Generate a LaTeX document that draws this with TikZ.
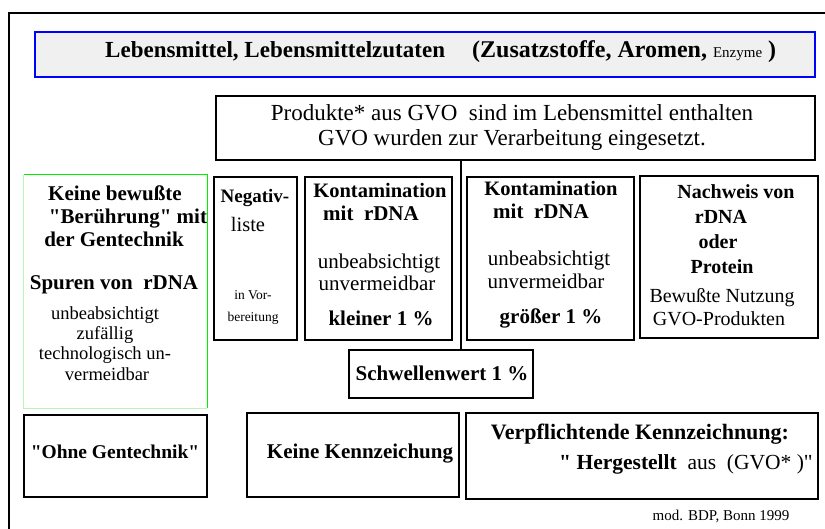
\documentclass[tikz,border=0pt]{standalone}
\usepackage{fontspec}
\setmainfont{Liberation Serif}
\newcommand\fsz[1]{\fontsize{#1}{#1}\selectfont}
\newcommand\qq{\textquotedbl}
\definecolor{titlefill}{HTML}{F0F0F0}
\definecolor{brightgreen}{HTML}{00F000}
\definecolor{palegreen}{HTML}{B8F5B8}
\begin{document}
\begin{tikzpicture}[x=1pt,y=-1pt,
  box/.style={draw=black, line width=1.3pt, inner sep=0pt, outer sep=0pt},
  lbl/.style={inner sep=0pt, anchor=mid, font=\fsz{21}},
  blbl/.style={inner sep=0pt, anchor=mid, font=\bfseries\fsz{21}},
  slbl/.style={inner sep=0pt, anchor=mid, font=\fsz{18.5}}]
\useasboundingbox (0,0) rectangle (825,529);
\clip (0,0) rectangle (825,529);
\fill[white] (0,0) rectangle (825,529);

% outer frame, running off the right and bottom
\draw[line width=1.2pt] (9,560) -- (9,13) -- (860,13);

% title bar
\node[draw=blue, fill=titlefill, line width=1.8pt, inner sep=0pt,
      minimum width=780pt, minimum height=45pt] (title) at (425,54.5) {};
\node[inner sep=0pt, anchor=mid west, font=\bfseries\fsz{23}] (titleA) at (105,55)
  {Lebensmittel, Lebensmittelzutaten};
\node[inner sep=0pt, anchor=mid west, font=\bfseries\fsz{24}] (titleB) at (472,55)
  {(Zusatzstoffe, Aromen, {\mdseries\fsz{15}Enzyme} )};

% products box
\node[box, minimum width=599pt, minimum height=64pt] (prod) at (515.5,128) {};
\node[inner sep=0pt, anchor=mid, font=\fsz{23}] (prodA) at (512,118)
  {Produkte* aus GVO\ \ sind im Lebensmittel enthalten};
\node[inner sep=0pt, anchor=mid, font=\fsz{23}] (prodB) at (512,143)
  {GVO wurden zur Verarbeitung eingesetzt.};

% left column: no contact with gene technology
\node[inner sep=0pt, minimum width=183pt, minimum height=233pt] (green) at (115.5,291.5) {};
\draw[palegreen, line width=1.2pt] (green.north west) -- (green.south west) -- (green.south east);
\draw[brightgreen, line width=1.4pt] (green.north west) -- (green.north east) -- (green.south east);
\node[blbl] (g1) at (115,198) {Keine bewußte};
\node[blbl] (g2) at (128,221) {\qq Berührung\qq\ mit};
\node[blbl] (g3) at (114,244) {der Gentechnik};
\node[blbl] (g4) at (114,287) {Spuren von\ \ rDNA};
\node[slbl] (g5) at (105,317) {unbeabsichtigt};
\node[slbl] (g6) at (105,337) {zufällig};
\node[slbl] (g7) at (105,357) {technologisch un-};
\node[slbl] (g8) at (107,378) {vermeidbar};

% negative list
\node[box, minimum width=83pt, minimum height=163pt] (neg) at (255.5,258.5) {};
\node[inner sep=0pt, anchor=mid, font=\bfseries\fsz{19}] (n1) at (255,200) {Negativ-};
\node[inner sep=0pt, anchor=mid, font=\fsz{20.5}] (n2) at (248,229) {liste};
\node[inner sep=0pt, anchor=mid, font=\fsz{13.5}] (n3) at (253,297) {in Vor-};
\node[inner sep=0pt, anchor=mid, font=\fsz{13.5}] (n4) at (253,319) {bereitung};

% contamination below the threshold
\node[box, minimum width=147pt, minimum height=163pt] (kA) at (378.5,258.5) {};
\node[inner sep=0pt, anchor=mid, font=\bfseries\fsz{20.5}] (kA1) at (380,195) {Kontamination};
\node[blbl] (kA2) at (371,218) {mit\ \ rDNA};
\node[lbl] (kA3) at (379,266) {unbeabsichtigt};
\node[lbl] (kA4) at (377,288) {unvermeidbar};
\node[blbl] (kA5) at (381,323) {kleiner 1 \%};

% contamination above the threshold
\node[box, minimum width=167pt, minimum height=163pt] (kB) at (550.5,258.5) {};
\node[inner sep=0pt, anchor=mid, font=\bfseries\fsz{20.5}] (kB1) at (551,193) {Kontamination};
\node[blbl] (kB2) at (541,216) {mit\ \ rDNA};
\node[lbl] (kB3) at (549,263) {unbeabsichtigt};
\node[lbl] (kB4) at (546,286) {unvermeidbar};
\node[blbl] (kB5) at (551,321) {größer 1 \%};

% detection
\node[box, minimum width=178pt, minimum height=162pt] (det) at (729,257) {};
\node[inner sep=0pt, anchor=mid, font=\bfseries\fsz{20}] (d1) at (736,196) {Nachweis von};
\node[inner sep=0pt, anchor=mid, font=\bfseries\fsz{20}] (d2) at (721,221) {rDNA};
\node[inner sep=0pt, anchor=mid, font=\bfseries\fsz{20}] (d3) at (718,246) {oder};
\node[inner sep=0pt, anchor=mid, font=\bfseries\fsz{20}] (d4) at (722,271) {Protein};
\node[inner sep=0pt, anchor=mid, font=\fsz{20}] (d5) at (722,300) {Bewußte Nutzung};
\node[inner sep=0pt, anchor=mid, font=\fsz{20}] (d6) at (719,323) {GVO-Produkten};

% threshold
\node[box, minimum width=184pt, minimum height=48pt] (thr) at (441,374) {};
\node[blbl] (thrT) at (442,378) {Schwellenwert 1 \%};

% divider between the two contamination cases
\coordinate (vx) at (461,0);
\draw[line width=1.8pt] (vx |- prod.south) -- (vx |- thr.north);

% labelling row
\node[box, minimum width=183pt, minimum height=82pt] (ohne) at (115.5,456) {};
\node[inner sep=0pt, anchor=mid, font=\bfseries\fsz{19.5}] (ohneT) at (115,456)
  {\qq Ohne Gentechnik\qq};
\node[box, minimum width=212pt, minimum height=84pt] (keine) at (353,455) {};
\node[blbl] (keineT) at (360,456) {Keine Kennzeichung};
\node[box, minimum width=352pt, minimum height=86pt] (verp) at (642,456) {};
\draw[line width=2.4pt] (verp.south west) -- (verp.south east) -- (verp.north east);
\node[inner sep=0pt, anchor=mid, font=\bfseries\fsz{22}] (verpA) at (640,437)
  {Verpflichtende Kennzeichnung:};
\node[inner sep=0pt, anchor=mid, font=\fsz{21.5}] (verpB) at (686,467)
  {\bfseries \qq\ Hergestellt\ \ \mdseries aus\ \ (GVO* )\qq};

% source
\node[inner sep=0pt, anchor=mid, font=\fsz{15}] (src) at (721,518) {mod. BDP, Bonn 1999};
\end{tikzpicture}
\end{document}
